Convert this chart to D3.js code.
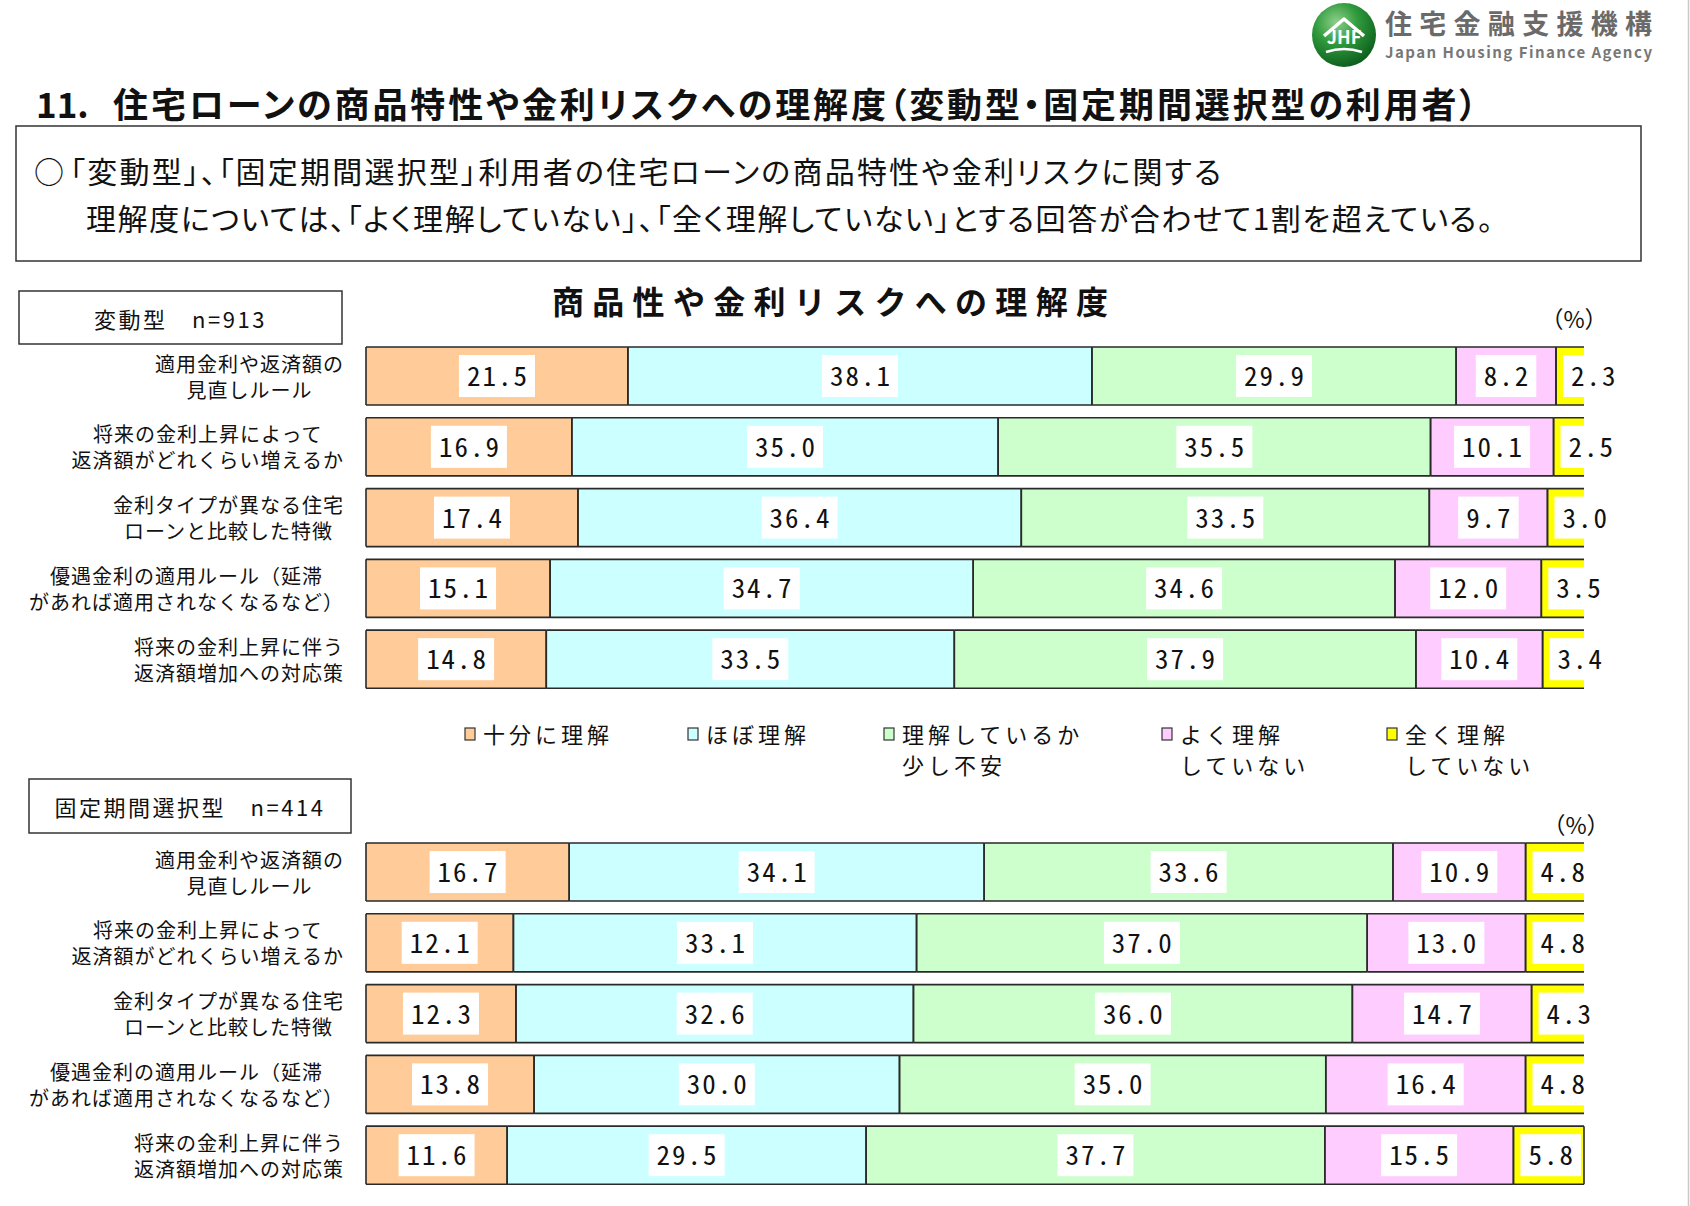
<!DOCTYPE html>
<html><head><meta charset="utf-8">
<script src="https://cdn.jsdelivr.net/npm/d3@7"></script>
<style>
body{margin:0;background:#fff;}
text{font-family:"Noto Sans CJK JP","Noto Sans",sans-serif;fill:#111;}
</style>
</head><body><svg id="c" width="1690" height="1206"></svg>
<script>
// ---------- data ----------
const categories = [
  ["適用金利や返済額の","見直しルール"],
  ["将来の金利上昇によって","返済額がどれくらい増えるか"],
  ["金利タイプが異なる住宅","ローンと比較した特徴"],
  ["優遇金利の適用ルール（延滞","があれば適用されなくなるなど）"],
  ["将来の金利上昇に伴う","返済額増加への対応策"]
];
const seriesNames = [["十分に理解"],["ほぼ理解"],["理解しているか","少し不安"],["よく理解","していない"],["全く理解","していない"]];
const seriesColors = ["#FFCC99","#CCFFFF","#CCFFCC","#FFCCFF","#FFFF00"];
const hendouValues = [
  [21.5,38.1,29.9,8.2,2.3],
  [16.9,35.0,35.5,10.1,2.5],
  [17.4,36.4,33.5,9.7,3.0],
  [15.1,34.7,34.6,12.0,3.5],
  [14.8,33.5,37.9,10.4,3.4]
];
const koteiValues = [
  [16.7,34.1,33.6,10.9,4.8],
  [12.1,33.1,37.0,13.0,4.8],
  [12.3,32.6,36.0,14.7,4.3],
  [13.8,30.0,35.0,16.4,4.8],
  [11.6,29.5,37.7,15.5,5.8]
];
const groupLabels = ["変動型　n=913","固定期間選択型　n=414"];
const titleNum = "11.";
const titleText = "住宅ローンの商品特性や金利リスクへの理解度（変動型・固定期間選択型の利用者）";
const bulletLines = ["「変動型」、「固定期間選択型」利用者の住宅ローンの商品特性や金利リスクに関する",
                     "理解度については、「よく理解していない」、「全く理解していない」とする回答が合わせて1割を超えている。"];
const chartTitle = "商品性や金利リスクへの理解度";
const unitLabel = "（%）";

// ---------- drawing ----------
const W = 1690, H = 1206;
const svg = d3.select("#c");
svg.append("rect").attr("width",W).attr("height",H).attr("fill","#fff");
svg.append("line").attr("x1",1688.5).attr("x2",1688.5).attr("y1",0).attr("y2",H).attr("stroke","#c8c8c8").attr("stroke-width",1.5);

// logo
const defs = svg.append("defs");
const rg = defs.append("radialGradient").attr("id","lg").attr("cx","38%").attr("cy","30%").attr("r","75%");
rg.append("stop").attr("offset","0%").attr("stop-color","#8fd08a");
rg.append("stop").attr("offset","45%").attr("stop-color","#2f9a3c");
rg.append("stop").attr("offset","100%").attr("stop-color","#0b5a1c");
const logo = svg.append("g");
logo.append("circle").attr("cx",1344).attr("cy",35).attr("r",32).attr("fill","url(#lg)");
logo.append("path").attr("d","M1324,36 L1344,19 L1364,36").attr("fill","none").attr("stroke","#fff").attr("stroke-width",3.5).attr("stroke-linejoin","round");
logo.append("path").attr("d","M1326,52 Q1344,46 1362,52").attr("fill","none").attr("stroke","#fff").attr("stroke-width",2.5);
logo.append("text").attr("x",1344).attr("y",44).attr("text-anchor","middle").attr("font-size",18).attr("font-weight",700)
  .attr("font-family","Liberation Serif,serif").style("fill","#fff").text("JHF");
logo.append("text").attr("x",1385).attr("y",34).attr("font-size",27).attr("font-weight",700)
  .attr("textLength",267).attr("lengthAdjust","spacing").style("fill","#6a6a6a").text("住宅金融支援機構");
logo.append("text").attr("x",1385).attr("y",58).attr("font-size",15).attr("font-weight",700)
  .attr("font-family","Liberation Sans,Arial,sans-serif").attr("textLength",267).attr("lengthAdjust","spacing").style("fill","#777").text("Japan Housing Finance Agency");

// title
svg.append("text").attr("x",36).attr("y",102).attr("dominant-baseline","central").attr("font-size",35).attr("font-weight",700).text(titleNum);
svg.append("text").attr("x",113).attr("y",102).attr("dominant-baseline","central").attr("font-size",35).attr("font-weight",700)
  .style("font-feature-settings","'palt' 1").attr("textLength",1364).attr("lengthAdjust","spacing").text(titleText);

// bullet box
svg.append("rect").attr("x",16).attr("y",126).attr("width",1625).attr("height",135).attr("fill","none").attr("stroke","#333").attr("stroke-width",1.5);
svg.append("text").attr("x",34).attr("y",170).attr("dominant-baseline","central").attr("font-size",30).text("○");
svg.append("text").attr("x",70).attr("y",170).attr("dominant-baseline","central").attr("font-size",30)
  .style("font-feature-settings","'palt' 1").attr("textLength",1151).attr("lengthAdjust","spacing").text(bulletLines[0]);
svg.append("text").attr("x",86).attr("y",217).attr("dominant-baseline","central").attr("font-size",30)
  .style("font-feature-settings","'palt' 1").attr("textLength",1407).attr("lengthAdjust","spacing").text(bulletLines[1]);

// chart title
svg.append("text").attr("x",552).attr("y",300).attr("dominant-baseline","central").attr("font-size",32).attr("font-weight",700)
  .attr("textLength",556).attr("lengthAdjust","spacing").text(chartTitle);

const x = d3.scaleLinear().domain([0,1]).range([366,1584]);
const fmt = d3.format(".1f");
const stack = d3.stack().keys(d3.range(5)).offset(d3.stackOffsetExpand);

function drawGroup(values, top, box, unitPos, label){
  const g = svg.append("g");
  // group label box
  g.append("rect").attr("x",box[0]).attr("y",box[1]).attr("width",box[2]).attr("height",box[3])
    .attr("fill","#fff").attr("stroke","#333").attr("stroke-width",1.5);
  g.append("text").attr("x",box[0]+box[2]/2).attr("y",box[1]+box[3]/2).attr("text-anchor","middle").attr("dominant-baseline","central")
    .attr("font-size",22).attr("letter-spacing","2.5px").text(label);
  g.append("text").attr("x",unitPos[0]).attr("y",unitPos[1]).attr("text-anchor","middle").attr("dominant-baseline","central")
    .attr("font-size",23).text(unitLabel);

  const y = d3.scaleBand().domain(d3.range(values.length)).range([top, top+341.2]).paddingInner(0.18).paddingOuter(0);
  const rows = values.map(v => { const o = {}; v.forEach((d,j)=>o[j]=d); return o; });
  const series = stack(rows);
  const last = series.length - 1;

  const segG = g.append("g");
  const edgeG = g.append("g").attr("fill","none").attr("stroke","#2a2a2a").attr("stroke-width",1.6);
  const labG = g.append("g");
  series.forEach((s,k) => {
    segG.selectAll(null).data(s).join("rect")
      .attr("x", d => x(d[0])).attr("y", (d,i) => y(i))
      .attr("width", d => x(d[1]) - x(d[0])).attr("height", y.bandwidth())
      .attr("fill", seriesColors[k]);
  });

  series.forEach((s,k) => {
    s.forEach((d,i) => {
      const x0 = x(d[0]), x1 = x(d[1]);
      const y0 = y(i), y1 = y(i) + y.bandwidth();
      const cy = (y0 + y1)/2;
      const lg = labG.append("g");
      const rect = lg.append("rect").attr("fill","#fff");
      const t = lg.append("text").attr("y",cy-1.5).attr("dominant-baseline","central").attr("font-size",27)
        .attr("letter-spacing","2px").style("font-feature-settings","'hwid' 1").text(fmt(values[i][k]));
      const tw = t.node().getComputedTextLength();
      let bx, bw, fits = true;
      if (k === last) {
        bx = x0 + 7;
        t.attr("x", bx + 8);
        fits = bx + 8 + tw <= x1 + 1;
        bw = Math.min(tw + 14, x.range()[1] - bx);
      } else {
        bw = tw + 14;
        bx = (x0 + x1)/2 - bw/2;
        t.attr("x", bx + 8);
      }
      rect.attr("x",bx).attr("y",cy-21).attr("width",bw).attr("height",42);
      // segment outline
      let p = `M${x0},${y0}H${x1}M${x0},${y1}H${x1}M${x0},${y0}V${y1}`;
      if (k !== last || fits) p += `M${x1},${y0}V${y1}`;
      edgeG.append("path").attr("d", p);
    });
  });

  // category axis
  const ax = g.append("g").attr("transform","translate(344,0)")
    .call(d3.axisLeft(y).tickSize(0).tickPadding(0).tickFormat(() => ""));
  ax.attr("font-family",null).attr("font-size",null);
  ax.select(".domain").remove();
  ax.selectAll(".tick text").each(function(i){
    const t = d3.select(this).attr("dy",null).attr("text-anchor","middle").attr("font-size",20)
      .attr("letter-spacing","1px").style("fill","#111");
    t.text(null);
    const ts = categories[i].map((ln,j) => t.append("tspan").attr("x",0).attr("y", j===0 ? -13 : 13).attr("dominant-baseline","central").text(ln));
    const maxW = d3.max(ts, s => s.node().getComputedTextLength());
    ts.forEach(s => s.attr("x", -maxW/2));
  });
}

drawGroup(hendouValues, 347, [19,291,323,53], [1574,318], groupLabels[0]);
drawGroup(koteiValues, 843, [29,779,322,54], [1576,824], groupLabels[1]);

// legend
const legendX = [465,688,884,1162,1387];
const leg = svg.append("g");
seriesNames.forEach((names,k) => {
  leg.append("rect").attr("x",legendX[k]).attr("y",728).attr("width",10).attr("height",12)
    .attr("fill",seriesColors[k]).attr("stroke","#333").attr("stroke-width",1.2);
  names.forEach((n,j) => {
    leg.append("text").attr("x",legendX[k]+18).attr("y",733 + j*31).attr("dominant-baseline","central")
      .attr("font-size",22).attr("letter-spacing","4px").text(n);
  });
});
</script>
</body></html>
